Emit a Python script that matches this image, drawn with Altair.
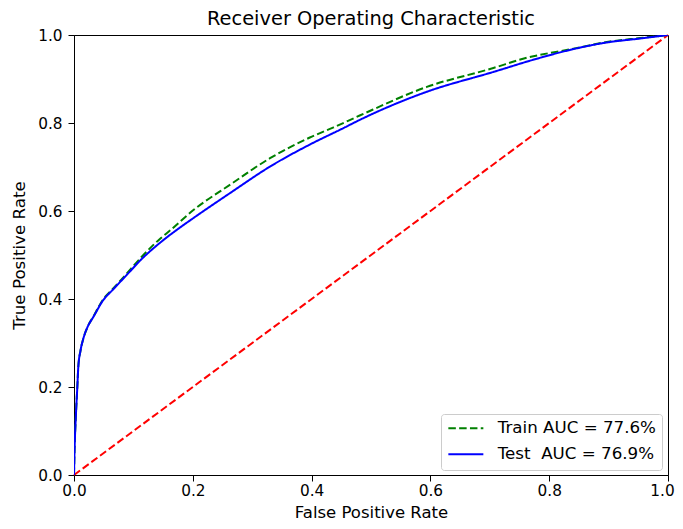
import altair as alt
import pandas as pd

train_label = "Train AUC = 77.6%"
test_label = "Test \u00a0AUC = 76.9%"

train_fpr = [0, 0.001, 0.003, 0.0056, 0.0072, 0.011, 0.0157, 0.023, 0.0325, 0.049, 0.066, 0.089, 0.114,
             0.145, 0.162, 0.2, 0.263, 0.33, 0.397, 0.437, 0.481, 0.594, 0.706, 0.756, 0.841, 0.897,
             0.953, 1.0]
train_tpr = [0, 0.06, 0.13, 0.2, 0.245, 0.283, 0.31, 0.337, 0.36, 0.399, 0.424, 0.458, 0.496,
             0.537, 0.556, 0.601, 0.66, 0.72, 0.767, 0.79, 0.817, 0.882, 0.925, 0.946, 0.969, 0.984,
             0.993, 1.0]

test_fpr = [0, 0.001, 0.003, 0.0056, 0.0072, 0.011, 0.0157, 0.023, 0.0325, 0.049, 0.066, 0.089, 0.114,
            0.145, 0.178, 0.2, 0.263, 0.33, 0.397, 0.453, 0.481, 0.594, 0.706, 0.779, 0.841, 0.897,
            0.953, 1.0]
test_tpr = [0, 0.06, 0.13, 0.2, 0.245, 0.283, 0.31, 0.337, 0.359, 0.397, 0.422, 0.455, 0.491,
            0.528, 0.562, 0.583, 0.641, 0.701, 0.751, 0.788, 0.807, 0.871, 0.916, 0.946, 0.968, 0.983,
            0.992, 1.0]

diag_x = [0, 1]
diag_y = [0, 1]

rows = []
for i, (x, y) in enumerate(zip(train_fpr, train_tpr)):
    rows.append({"fpr": x, "tpr": y, "series": train_label, "i": i})
for i, (x, y) in enumerate(zip(test_fpr, test_tpr)):
    rows.append({"fpr": x, "tpr": y, "series": test_label, "i": i})
df = pd.DataFrame(rows)
diag = pd.DataFrame({"fpr": diag_x, "tpr": diag_y})

xscale = alt.Scale(domain=[0, 1], nice=False, zero=False)
yscale = alt.Scale(domain=[0, 1], nice=False, zero=False)
ticks = [0, 0.2, 0.4, 0.6, 0.8, 1.0]

xaxis = alt.Axis(title="False Positive Rate", values=ticks, format=".1f", grid=False,
                 labelFlush=False, labelPadding=2, titleY=42, titleBaseline="alphabetic",
                 titleFontSize=16.5,
                 labelOffset={"condition": {"test": "datum.value >= 1", "value": -6}, "value": 0})
yaxis = alt.Axis(title="True Positive Rate", values=ticks, format=".1f", grid=False,
                 labelFlush=False, titlePadding=9)

domain = [train_label, test_label]
legend = alt.Legend(title=None, orient="none", legendX=367, legendY=379)

curves = alt.Chart(df).mark_line(strokeWidth=2, clip=True, interpolate="monotone").encode(
    x=alt.X("fpr:Q", scale=xscale, axis=xaxis),
    y=alt.Y("tpr:Q", scale=yscale, axis=yaxis),
    color=alt.Color("series:N", scale=alt.Scale(domain=domain, range=["#008000", "#0000ff"]),
                    legend=legend),
    strokeDash=alt.StrokeDash("series:N", scale=alt.Scale(domain=domain, range=[[7.5, 3.3], [1, 0]]),
                              legend=legend),
    order="i:Q",
)

diag_line = alt.Chart(diag).mark_line(strokeWidth=2, color="#ff0000", strokeDash=[7.5, 3.3]).encode(
    x=alt.X("fpr:Q", scale=xscale, axis=xaxis),
    y=alt.Y("tpr:Q", scale=yscale, axis=yaxis),
)

chart = alt.layer(diag_line, curves).properties(
    width=594, height=440,
    title=alt.Title("Receiver Operating Characteristic", fontSize=19.4, fontWeight="normal",
                    font="DejaVu Sans", color="black", offset=9, frame="group", dy=10),
    autosize=alt.AutoSizeParams(type="none"),
    padding={"left": 66, "top": 27, "right": 7, "bottom": 46},
).configure_view(
    stroke="black", strokeWidth=1
).configure_axis(
    labelFont="DejaVu Sans", titleFont="DejaVu Sans", labelFontSize=15.3, titleFontSize=16.7,
    titleFontWeight="normal", labelColor="black", titleColor="black",
    domainColor="black", tickColor="black", tickSize=6, labelPadding=6,
    domainWidth=1, tickWidth=1,
).configure_legend(
    labelFont="DejaVu Sans", labelFontSize=16.7, labelColor="black",
    symbolType="M-1,0H4", symbolSize=196, symbolStrokeWidth=2,
    strokeColor="#cccccc", fillColor="white", padding=6, cornerRadius=3,
    rowPadding=8, labelOffset=34,
)

chart.save("out.html", embed_options={"renderer": "svg", "actions": False})
